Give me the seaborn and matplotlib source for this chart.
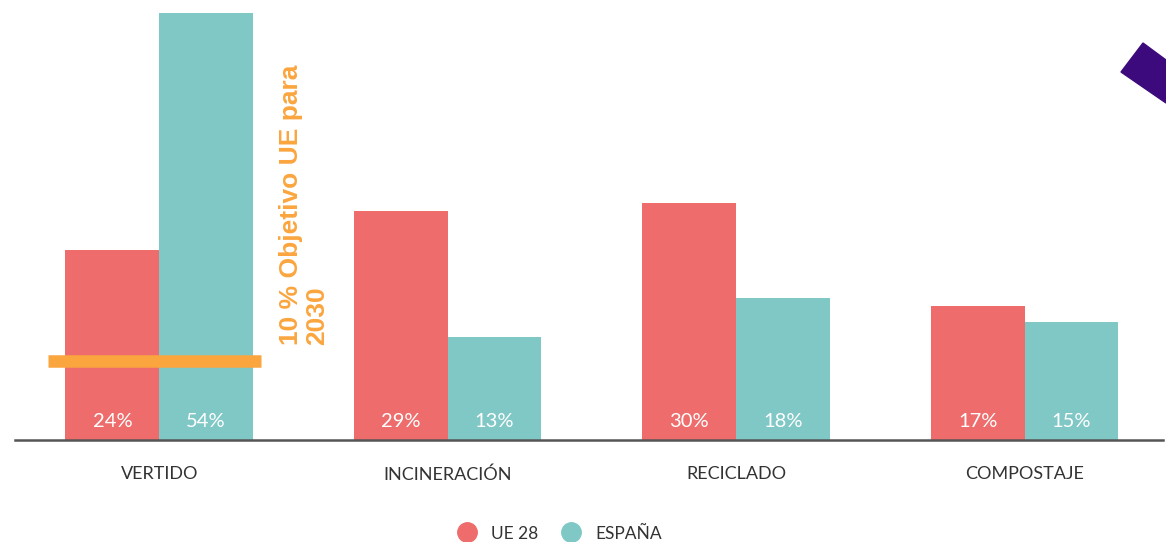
import numpy as np
import pandas as pd
import seaborn as sns
import matplotlib.pyplot as plt
from matplotlib.lines import Line2D
from matplotlib.patches import Polygon

categorias = ['VERTIDO', 'INCINERACIÓN', 'RECICLADO', 'COMPOSTAJE']
ue28 = [24, 29, 30, 17]
espana = [54, 13, 18, 15]
series = ['UE 28', 'ESPAÑA']
objetivo = 10

rojo = '#EE6D6C'
verde = '#80C8C6'
naranja = '#FBA53E'

df = pd.DataFrame({
    'categoria': categorias * 2,
    'serie': [series[0]] * 4 + [series[1]] * 4,
    'valor': ue28 + espana,
})

sns.set_style('white')
plt.rcParams['font.family'] = ['Lato', 'DejaVu Sans']

fig = plt.figure(figsize=(11.66, 5.42), dpi=100)
ax = fig.add_axes([15 / 1166, 102 / 542, 1148 / 1166, 440 / 542])

sns.barplot(data=df, x='categoria', y='valor', hue='serie', order=categorias,
            hue_order=series, palette=[rojo, verde], width=0.65,
            saturation=1, legend=False, linewidth=0, ax=ax)

# value labels sit at the bottom of each bar
for cont, vals in zip(ax.containers, [ue28, espana]):
    for p, v in zip(cont.patches, vals):
        ax.text(p.get_x() + p.get_width() / 2, 2.4, f'{v}%', color='white',
                ha='center', va='center', fontsize=14.5)

ax.set_xlim(-0.5, 3.48)
ax.set_ylim(0, 55.7)
ax.set_xlabel('')
ax.set_ylabel('')
ax.set_yticks([])
ax.tick_params(axis='x', length=0, pad=19, labelsize=13, labelcolor='#333333')
for s in ['top', 'right', 'left']:
    ax.spines[s].set_visible(False)
ax.spines['bottom'].set_color('#555555')
ax.spines['bottom'].set_linewidth(1.8)

# target line for 2030
ax.hlines(objetivo, -0.385, 0.353, color=naranja, lw=9)
ax.text(0.415, 12.0, '10 % Objetivo UE para\n2030', rotation=90, ha='left',
        va='bottom', multialignment='left', color=naranja, fontsize=19,
        fontweight='bold', family=['Liberation Sans', 'DejaVu Sans'],
        linespacing=1.1)

handles = [Line2D([], [], marker='o', ls='', markersize=14, color=c) for c in [rojo, verde]]
fig.legend(handles, series, loc='lower center', bbox_to_anchor=(556 / 1166, -0.028),
           ncol=2, frameon=False, fontsize=12.5, handletextpad=0.4,
           columnspacing=0.9, labelcolor='#333333')

# decorative purple corner shape
fig.patches.append(Polygon([(1121 / 1166, 1 - 72 / 542), (1143 / 1166, 1 - 43 / 542),
                            (1.0, 1 - 60 / 542), (1.0, 1 - 103 / 542)],
                           closed=True, transform=fig.transFigure,
                           color='#3C0A7C', zorder=5))

fig.savefig('out.png', dpi=100)
